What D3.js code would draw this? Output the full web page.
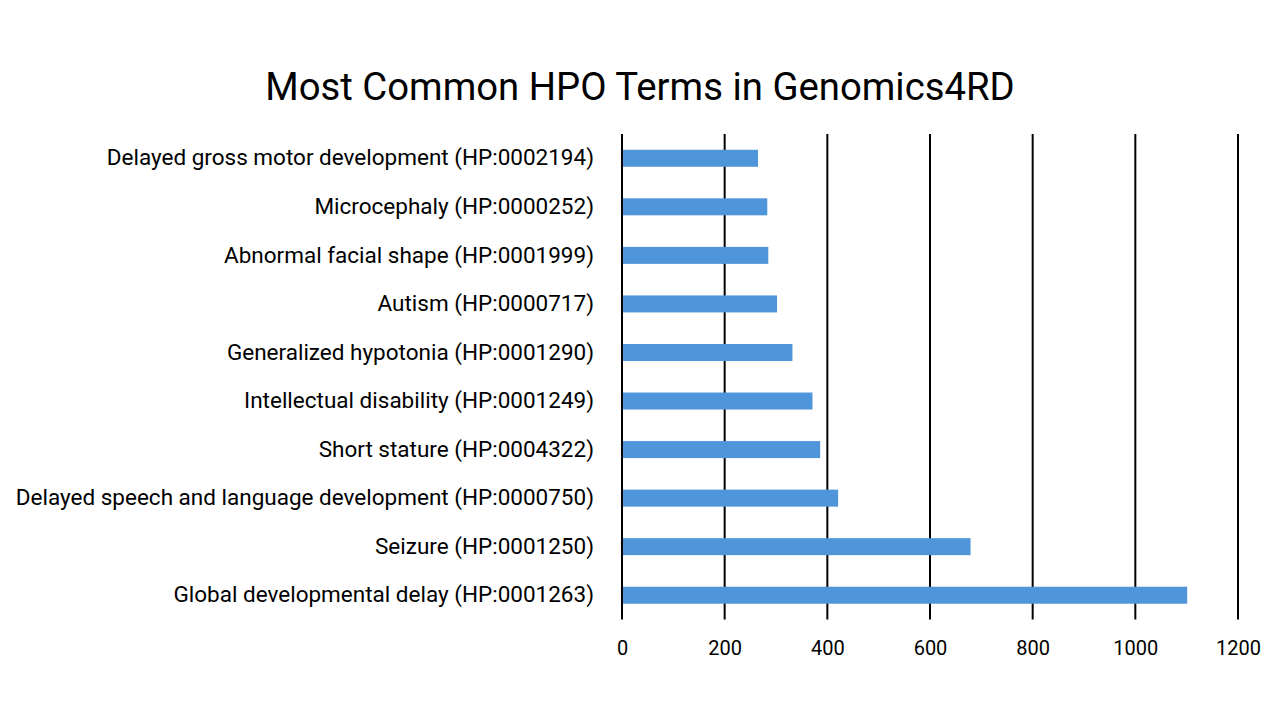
<!DOCTYPE html>
<html>
<head>
    <meta charset="utf-8">
    <title>Most Common HPO Terms in Genomics4RD</title>
    <script src="https://d3js.org/d3.v7.min.js"></script>
    <style>
        body { margin: 0; background: #fff; }
        text { font-family: Roboto, "Liberation Sans", sans-serif; fill: #000; }
    </style>
</head>
<body>
    <svg width="1280" height="720" id="mainSvg"></svg>
    <script>
        // terms, listed top to bottom as in the chart
        const terms = [
            "Delayed gross motor development (HP:0002194)",
            "Microcephaly (HP:0000252)",
            "Abnormal facial shape (HP:0001999)",
            "Autism (HP:0000717)",
            "Generalized hypotonia (HP:0001290)",
            "Intellectual disability (HP:0001249)",
            "Short stature (HP:0004322)",
            "Delayed speech and language development (HP:0000750)",
            "Seizure (HP:0001250)",
            "Global developmental delay (HP:0001263)"
        ];
        const counts = [265, 283, 285, 302, 332, 371, 386, 421, 679, 1101];
        const xTicks = [0, 200, 400, 600, 800, 1000, 1200];

        const svg = d3.select("#mainSvg");
        const plot = { left: 622, right: 1238, top: 134, bottom: 619.5 };

        const xScale = d3.scaleLinear()
            .domain([0, 1200])
            .range([plot.left, plot.right]);

        const yScale = d3.scaleBand()
            .domain(terms)
            .range([plot.top, plot.bottom])
            .paddingInner(0.65)
            .paddingOuter(0.325);

        svg.append("text")
            .attr("x", 640)
            .attr("y", 100)
            .attr("text-anchor", "middle")
            .attr("font-size", 38.3)
            .text("Most Common HPO Terms in Genomics4RD");

        // vertical gridlines
        svg.append("g")
            .selectAll("line")
            .data(xTicks)
            .join("line")
            .attr("x1", d => xScale(d))
            .attr("x2", d => xScale(d))
            .attr("y1", plot.top)
            .attr("y2", plot.bottom)
            .attr("stroke", "#000")
            .attr("stroke-width", 2);

        svg.append("g")
            .selectAll("rect")
            .data(counts)
            .join("rect")
            .attr("x", xScale(0) + 1)
            .attr("y", (d, i) => yScale(terms[i]))
            .attr("width", d => xScale(d) - xScale(0) - 1)
            .attr("height", yScale.bandwidth())
            .attr("fill", "#4F95DA");

        // x axis labels
        const xAxis = d3.axisBottom(xScale)
            .tickValues(xTicks)
            .tickFormat(d3.format("d"))
            .tickSize(0)
            .tickPadding(21);
        const xg = svg.append("g")
            .attr("transform", `translate(0, ${plot.bottom})`)
            .call(xAxis);
        xg.select(".domain").remove();
        xg.selectAll("text")
            .attr("font-size", 20)
            .attr("font-family", "Roboto, sans-serif")
            .attr("fill", "#000");

        // category labels
        const yAxis = d3.axisLeft(yScale)
            .tickSize(0)
            .tickPadding(28);
        const yg = svg.append("g")
            .attr("transform", `translate(${plot.left}, 0)`)
            .call(yAxis);
        yg.select(".domain").remove();
        yg.selectAll("text")
            .attr("font-size", 22.5)
            .attr("font-family", "Roboto, sans-serif")
            .attr("fill", "#000");
    </script>
</body>
</html>
